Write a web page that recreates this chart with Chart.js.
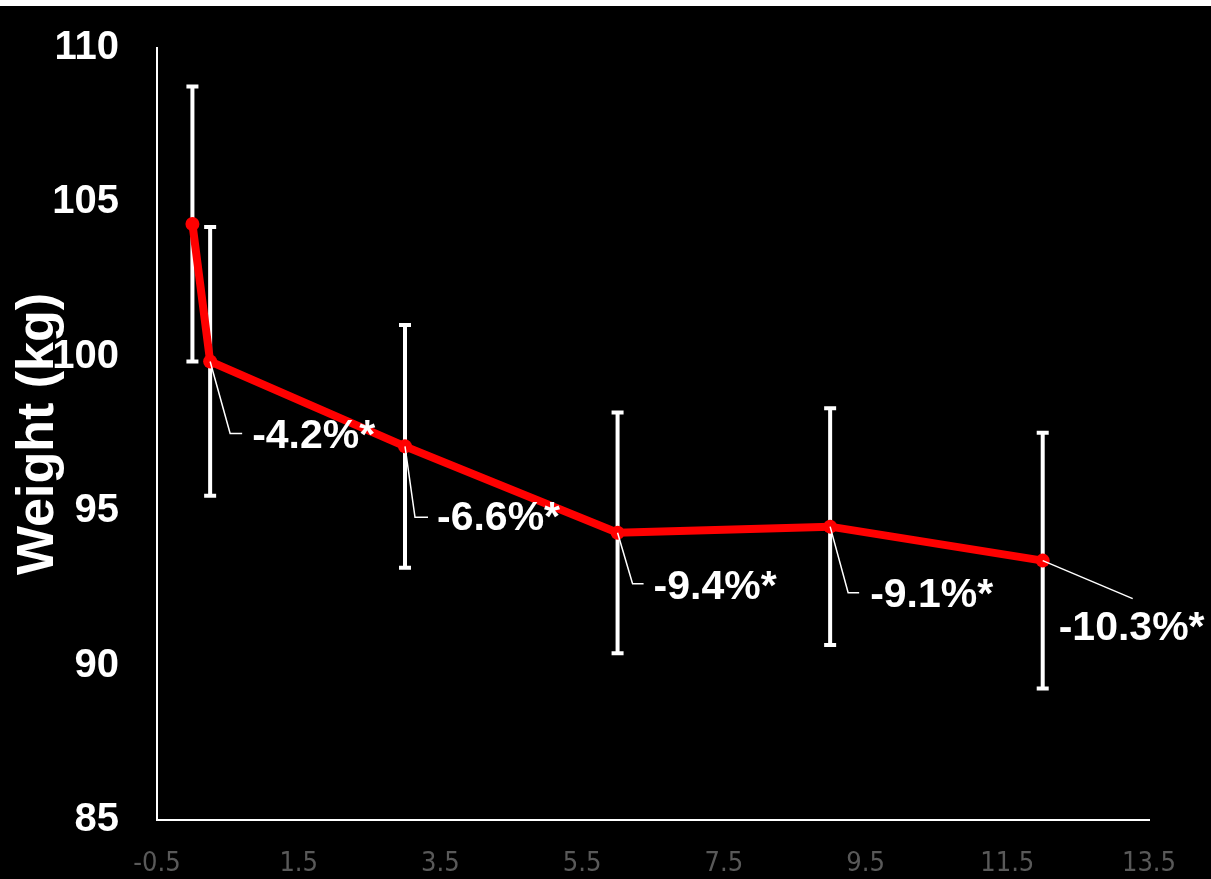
<!DOCTYPE html>
<html>
<head>
<meta charset="utf-8">
<script src="https://cdn.jsdelivr.net/npm/chart.js@4.4.0/dist/chart.umd.min.js"></script>
<style>
  html, body { margin: 0; padding: 0; background: #fff; }
  #wrap { position: absolute; left: 0; top: 6px; width: 1211px; height: 873px; background: #000; }
</style>
</head>
<body>
<div id="wrap"><canvas id="weightChart"></canvas></div>
<script>
// === Data ===
const months = [0, 0.25, 3, 6, 9, 12];
const weightMean = [104.3, 99.85, 97.1, 94.3, 94.5, 93.4];
const weightSD = [4.45, 4.35, 3.93, 3.9, 3.83, 4.14];
const changeLabels = ["", "-4.2%*", "-6.6%*", "-9.4%*", "-9.1%*", "-10.3%*"];
const xTicks = [-0.5, 1.5, 3.5, 5.5, 7.5, 9.5, 11.5, 13.5];
const yTicks = [85, 90, 95, 100, 105, 110];

// callout placement, px from the point: knee dx, knee dy, line end dx, text dx, text dy
const calloutOffsets = [
  null,
  [20, 72, 32, 42, 75],
  [10, 71, 23, 32, 72],
  [15, 51, 26, 36, 55],
  [18, 66, 29, 40, 69],
  [90, 38, 90, 16, 68]
];

const FONT = "'Liberation Sans', Arial, sans-serif";

// === Error bars (drawn under the line) ===
const errorBars = {
  id: "errorBars",
  beforeDatasetsDraw(chart) {
    const { ctx, scales: { x, y } } = chart;
    ctx.save();
    ctx.strokeStyle = "#fff";
    ctx.lineWidth = 4;
    months.forEach((m, i) => {
      const px = x.getPixelForValue(m);
      const top = y.getPixelForValue(weightMean[i] + weightSD[i]);
      const bot = y.getPixelForValue(weightMean[i] - weightSD[i]);
      ctx.beginPath();
      ctx.moveTo(px, top); ctx.lineTo(px, bot);
      ctx.moveTo(px - 6, top); ctx.lineTo(px + 6, top);
      ctx.moveTo(px - 6, bot); ctx.lineTo(px + 6, bot);
      ctx.stroke();
    });
    ctx.restore();
  }
};

// === % change callouts ===
const callouts = {
  id: "callouts",
  afterDatasetsDraw(chart) {
    const { ctx } = chart;
    const pts = chart.getDatasetMeta(0).data;
    ctx.save();
    ctx.strokeStyle = "#fff";
    ctx.lineWidth = 1.5;
    ctx.fillStyle = "#fff";
    ctx.font = "bold 41px " + FONT;
    ctx.textBaseline = "middle";
    ctx.textAlign = "left";
    changeLabels.forEach((txt, i) => {
      const o = calloutOffsets[i];
      if (!txt || !o) return;
      const p = pts[i];
      ctx.beginPath();
      ctx.moveTo(p.x, p.y);
      ctx.lineTo(p.x + o[0], p.y + o[1]);
      ctx.lineTo(p.x + o[2], p.y + o[1]);
      ctx.stroke();
      ctx.fillText(txt, p.x + o[3], p.y + o[4]);
    });
    ctx.restore();
  }
};

const ctx = document.getElementById("weightChart").getContext("2d");
new Chart(ctx, {
  type: "line",
  data: {
    datasets: [{
      label: "Weight",
      data: months.map((m, i) => ({ x: m, y: weightMean[i] })),
      borderColor: "#ff0000",
      backgroundColor: "#ff0000",
      borderWidth: 8,
      pointRadius: 7,
      pointBorderWidth: 0,
      tension: 0
    }]
  },
  options: {
    responsive: true,
    maintainAspectRatio: false,
    animation: false,
    layout: { padding: { top: 42, right: 62, bottom: 0, left: 0 } },
    plugins: { legend: { display: false }, tooltip: { enabled: false } },
    scales: {
      x: {
        type: "linear",
        min: -0.5,
        max: 13.5,
        afterBuildTicks: (s) => { s.ticks = xTicks.map(v => ({ value: v })); },
        afterFit: (s) => { s.height = 59; },
        grid: { display: false, drawTicks: false },
        border: { display: true, color: "#fff", width: 2 },
        ticks: {
          color: "#595959",
          padding: 28,
          maxRotation: 0,
          autoSkip: false,
          font: { family: "'Liberation Sans Narrow', 'DejaVu Sans Condensed', sans-serif", size: 27 },
          callback: (v) => String(v)
        }
      },
      y: {
        min: 85,
        max: 110,
        afterBuildTicks: (s) => { s.ticks = yTicks.map(v => ({ value: v })); },
        afterFit: (s) => { s.width = 157; },
        grid: { display: false, drawTicks: false },
        border: { display: true, color: "#fff", width: 2 },
        ticks: {
          color: "#fff",
          padding: 38,
          font: { family: FONT, size: 40, weight: "bold", lineHeight: 0.2 }
        },
        title: {
          display: true,
          text: "Weight (kg)",
          color: "#fff",
          padding: { top: 7, bottom: 0 },
          font: { family: FONT, size: 52, weight: "bold" }
        }
      }
    }
  },
  plugins: [errorBars, callouts]
});
</script>
</body>
</html>
